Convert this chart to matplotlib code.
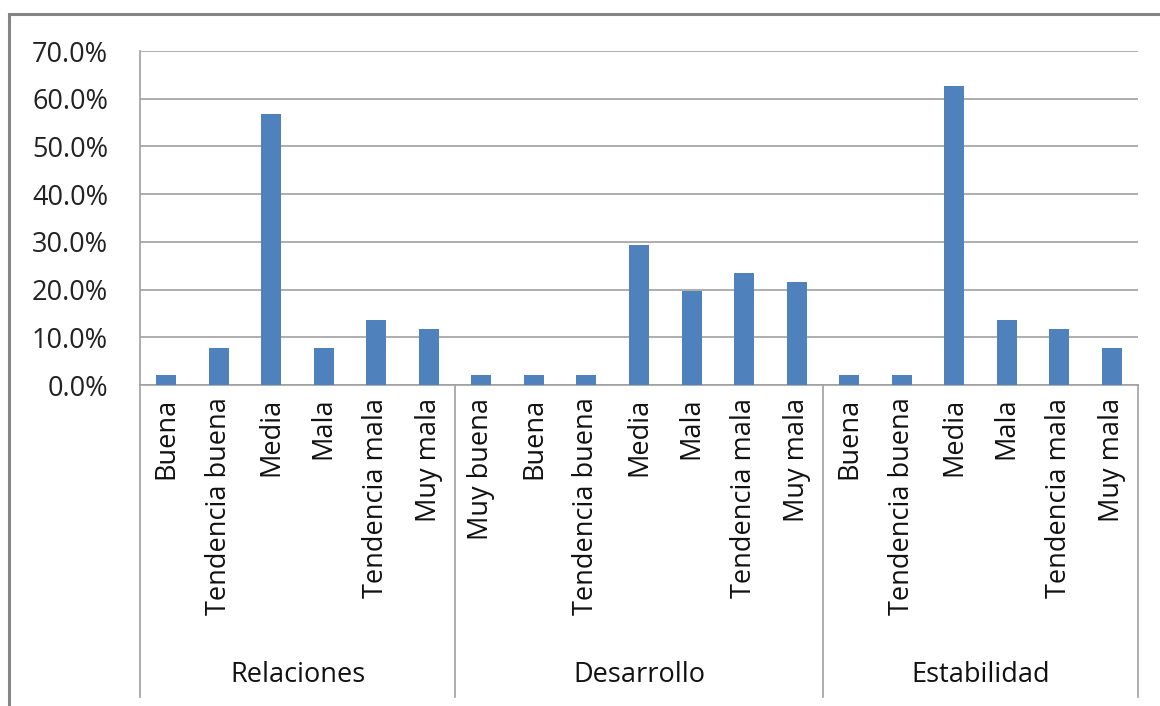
import matplotlib
matplotlib.use('Agg')
import matplotlib.pyplot as plt
from matplotlib.patches import Rectangle
from matplotlib.lines import Line2D

# datos
grupos = ['Relaciones', 'Desarrollo', 'Estabilidad']
cat_rel = ['Buena', 'Tendencia buena', 'Media', 'Mala', 'Tendencia mala', 'Muy mala']
cat_des = ['Muy buena', 'Buena', 'Tendencia buena', 'Media', 'Mala', 'Tendencia mala', 'Muy mala']
cat_est = ['Buena', 'Tendencia buena', 'Media', 'Mala', 'Tendencia mala', 'Muy mala']
val_rel = [2.0, 7.8, 56.9, 7.8, 13.7, 11.8]
val_des = [2.0, 2.0, 2.0, 29.4, 19.6, 23.5, 21.6]
val_est = [2.0, 2.0, 62.7, 13.7, 11.8, 7.8]
y_ticks = [0, 10, 20, 30, 40, 50, 60, 70]

plt.rcParams['font.family'] = ['Open Sans', 'DejaVu Sans']
FS = 19.5

W, H = 1160, 706
fig = plt.figure(figsize=(W / 100, H / 100), dpi=100)

# marco exterior
fig.add_artist(Rectangle((9 / W, -0.05), 1.2, 1.05 - 14 / H, transform=fig.transFigure,
                         fill=False, edgecolor='#858585', linewidth=2.2))

left, right, top, bottom = 140, 1138, 51, 385
ax = fig.add_axes([left / W, 1 - bottom / H, (right - left) / W, (bottom - top) / H])

cats = cat_rel + cat_des + cat_est
vals = val_rel + val_des + val_est
x = list(range(len(cats)))
ax.bar(x, vals, width=0.38, color='#4F81BD', zorder=3)

ax.set_xlim(-0.5, len(cats) - 0.5)
ax.set_ylim(0, 70)
ax.set_yticks(y_ticks)
ax.set_yticklabels([f'{v:.1f}%' for v in y_ticks], fontsize=FS, color='#222222')
ax.tick_params(axis='y', length=0, pad=23)
ax.yaxis.grid(True, color='#a0a0a0', linewidth=1.2, zorder=0)
ax.set_axisbelow(True)

ax.set_xticks(x)
ax.set_xticklabels(cats, rotation=90, fontsize=FS, color='#111111', va='top', ha='center')
ax.tick_params(axis='x', length=0, pad=9)

for s in ['top', 'right']:
    ax.spines[s].set_visible(False)
for s in ['left', 'bottom']:
    ax.spines[s].set_color('#a0a0a0')
    ax.spines[s].set_linewidth(1.2)

# divisiones de grupo y etiquetas
tr = ax.get_xaxis_transform()
sizes = [len(cat_rel), len(cat_des), len(cat_est)]
bounds = [-0.5]
for n in sizes:
    bounds.append(bounds[-1] + n)
y_low = -(697 - bottom) / (bottom - top)
for b in bounds:
    ax.add_line(Line2D([b, b], [0, y_low], transform=tr, color='#a0a0a0',
                       linewidth=1.2, clip_on=False))
y_lab = -(675 - bottom) / (bottom - top)
for g, a, b in zip(grupos, bounds[:-1], bounds[1:]):
    ax.text((a + b) / 2, y_lab, g, transform=tr, ha='center', va='center',
            fontsize=FS, color='#111111')

fig.savefig('out.png', dpi=100)
